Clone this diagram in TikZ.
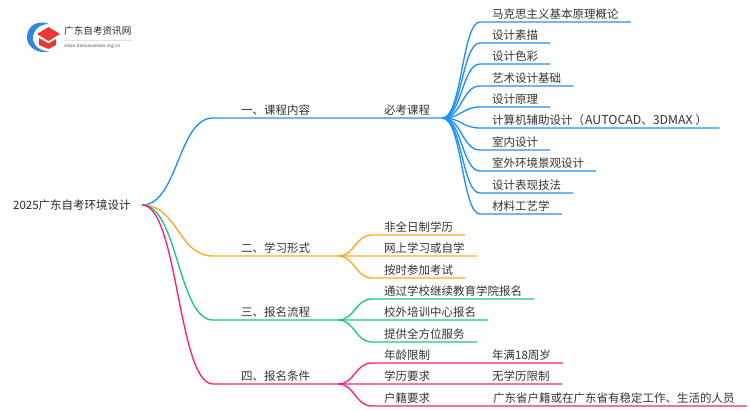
\documentclass[tikz,border=0pt]{standalone}
\usepackage{fontspec}
\setmainfont{Noto Sans CJK SC}
\definecolor{lineblue}{RGB}{30,144,255}
\definecolor{lineorange}{RGB}{255,170,30}
\definecolor{linegreen}{RGB}{30,200,120}
\definecolor{linepink}{RGB}{255,30,125}
\definecolor{logored}{RGB}{235,55,50}
\tikzstyle{item}=[anchor=south west,inner xsep=12pt,inner ysep=2pt,
                  font=\fontsize{11.5pt}{12pt}\selectfont,text=black!80]
\tikzstyle{wire}=[line width=1.35pt]

\begin{document}
\begin{tikzpicture}[x=1pt,y=-1pt]
    \useasboundingbox (0,0) rectangle (750,410);
    % logo
    \fill[lineblue!85!black!90] (49,24) .. controls (35,19) and (26,28) .. (27,39)
        .. controls (28,47) and (38,55) .. (50,51)
        .. controls (41,52) and (33,46) .. (33,38)
        .. controls (33,30) and (40,24) .. (49,24) -- cycle;
    \fill[logored] (37,34) -- (48.5,27) -- (60,34) -- (48.5,41) -- cycle;
    \fill[logored] (39,38) -- (48.5,43.5) -- (56,39) -- (56,45) -- (48.5,49) -- (39,45) -- cycle;
    \node (logotext) at (64,31) [anchor=west,inner sep=0pt,text=black!85,
        font=\fontsize{9.6pt}{10pt}\selectfont]{广东自考资讯网};
    \node (logourl) at (64,46) [anchor=west,inner sep=0pt,text=black!70,
        font=\fontsize{4.6pt}{5pt}\selectfont]{zikao.daniuxuexiao.org.cn};
    \draw[black!12,line width=0.5pt] (logotext.west |- 0,40) -- (logotext.east |- 0,40);

    % root and first level
    \node (root) at (13,205) [anchor=west,inner sep=0pt,text=black!85,
        font=\fontsize{11.5pt}{12pt}\selectfont]{2025广东自考环境设计};
    \coordinate (hub) at (142,205);
    \node (one) at (229,118) [item]{一、课程内容};
    \node (two) at (229,256) [item]{二、学习形式};
    \node (three) at (229,320) [item]{三、报名流程};
    \node (four) at (229,384) [item]{四、报名条件};
    \coordinate (twohub) at (338,256);
    \coordinate (threehub) at (338,320);
    \coordinate (fourhub) at (338,384);

    % courses
    \node (must) at (372,118) [item]{必考课程};
    \draw[wire,lineblue] (hub) .. controls (178,205) and (178,118) .. (213,118) -- (must.south east);
    \node (b1) at (480,22) [item]{马克思主义基本原理概论};
    \node (b2) at (480,43) [item]{设计素描};
    \node (b3) at (480,64) [item]{设计色彩};
    \node (b4) at (480,86) [item]{艺术设计基础};
    \node (b5) at (480,107) [item]{设计原理};
    \node (b6) at (480,128) [item]{计算机辅助设计（\hspace{1pt}{\fontsize{12.3pt}{12pt}\selectfont AUTOCAD}、{\fontsize{12.3pt}{12pt}\selectfont 3DMAX}\hspace{3pt}）};
    \node (b7) at (480,150) [item]{室内设计};
    \node (b8) at (480,171) [item]{室外环境景观设计};
    \node (b9) at (480,193) [item]{设计表现技法};
    \node (b10) at (480,214) [item]{材料工艺学};
    \draw[wire,lineblue] (must.south east) .. controls (462,118) and (462,22) .. (b1.south west) -- (b1.south east);
    \draw[wire,lineblue] (must.south east) .. controls (462,118) and (462,43) .. (b2.south west) -- (b2.south east);
    \draw[wire,lineblue] (must.south east) .. controls (462,118) and (462,64) .. (b3.south west) -- (b3.south east);
    \draw[wire,lineblue] (must.south east) .. controls (462,118) and (462,86) .. (b4.south west) -- (b4.south east);
    \draw[wire,lineblue] (must.south east) .. controls (462,118) and (462,107) .. (b5.south west) -- (b5.south east);
    \draw[wire,lineblue] (must.south east) .. controls (462,118) and (462,128) .. (b6.south west) -- (b6.south east);
    \draw[wire,lineblue] (must.south east) .. controls (462,118) and (462,150) .. (b7.south west) -- (b7.south east);
    \draw[wire,lineblue] (must.south east) .. controls (462,118) and (462,171) .. (b8.south west) -- (b8.south east);
    \draw[wire,lineblue] (must.south east) .. controls (462,118) and (462,193) .. (b9.south west) -- (b9.south east);
    \draw[wire,lineblue] (must.south east) .. controls (462,118) and (462,214) .. (b10.south west) -- (b10.south east);

    % study forms
    \node (o1) at (372,235) [item]{非全日制学历};
    \node (o2) at (372,256) [item]{网上学习或自学};
    \node (o3) at (372,278) [item]{按时参加考试};
    \draw[wire,lineorange] (hub) .. controls (178,205) and (178,256) .. (213,256) -- (o2.south east);
    \draw[wire,lineorange] (twohub) .. controls (355,256) and (355,235) .. (o1.south west) -- (o1.south east);
    \draw[wire,lineorange] (twohub) .. controls (355,256) and (355,278) .. (o3.south west) -- (o3.south east);

    % signup steps
    \node (g1) at (372,299) [item]{通过学校继续教育学院报名};
    \node (g2) at (372,320) [item]{校外培训中心报名};
    \node (g3) at (372,342) [item]{提供全方位服务};
    \draw[wire,linegreen] (hub) .. controls (178,205) and (178,320) .. (213,320) -- (g2.south east);
    \draw[wire,linegreen] (threehub) .. controls (355,320) and (355,299) .. (g1.south west) -- (g1.south east);
    \draw[wire,linegreen] (threehub) .. controls (355,320) and (355,342) .. (g3.south west) -- (g3.south east);

    % conditions
    \node (p1) at (372,363) [item]{年龄限制};
    \node (p2) at (372,384) [item]{学历要求};
    \node (p3) at (372,406) [item]{户籍要求};
    \node (q1) at (480,363) [item]{年满18周岁};
    \node (q2) at (480,384) [item]{无学历限制};
    \node (q3) at (481,406) [item]{广东省户籍或在广东省有稳定工作、生活的人员};
    \draw[wire,linepink] (hub) .. controls (178,205) and (178,384) .. (213,384) -- (q2.south east);
    \draw[wire,linepink] (fourhub) .. controls (355,384) and (355,363) .. (p1.south west) -- (q1.south east);
    \draw[wire,linepink] (fourhub) .. controls (355,384) and (355,406) .. (p3.south west) -- (q3.south east);
\end{tikzpicture}
\end{document}
